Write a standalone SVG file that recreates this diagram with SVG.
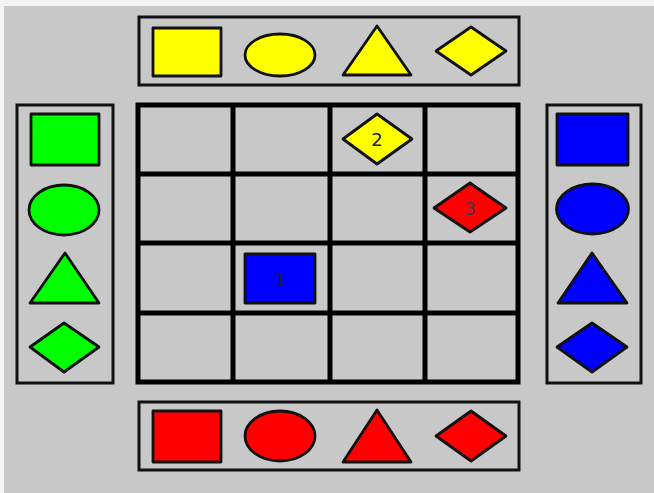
<svg xmlns="http://www.w3.org/2000/svg" width="654" height="493" viewBox="0 0 654 493">
<style>
.panel{fill:#c8c8c8;stroke:#111;stroke-width:3}
.sh{stroke:#111;stroke-width:2.8;stroke-linejoin:round}
.y{fill:#ffff00}.r{fill:#ff0000}.g{fill:#00ff00}.b{fill:#0000ff}
.grid{stroke:#000;stroke-width:5;fill:none;stroke-linecap:square}
.lbl{font-family:"DejaVu Sans","Liberation Sans",sans-serif;font-size:18px;fill:#1a1a2a;text-anchor:middle;dominant-baseline:central}
</style>
<rect x="0" y="0" width="654" height="493" fill="#f4f4f4"/>
<rect x="4" y="6" width="650" height="487" fill="#c8c8c8"/>

<g id="top-palette">
<rect class="panel" x="139" y="17" width="380" height="68"/>
<rect class="sh y" x="153" y="28" width="68" height="48"/>
<ellipse class="sh y" cx="280" cy="55" rx="35" ry="21"/>
<polygon class="sh y" points="377,26 343,75 411,75"/>
<polygon class="sh y" points="436,51 471,27 506,51 471,75"/>
</g>

<g id="bottom-palette">
<rect class="panel" x="139" y="402" width="380" height="68"/>
<rect class="sh r" x="153" y="411" width="68" height="51"/>
<ellipse class="sh r" cx="280" cy="436" rx="35" ry="25"/>
<polygon class="sh r" points="377,410 343,462 411,462"/>
<polygon class="sh r" points="436,436 471,411 506,436 471,461"/>
</g>

<g id="left-palette">
<rect class="panel" x="17" y="105" width="96" height="278"/>
<rect class="sh g" x="31" y="114" width="68" height="51"/>
<ellipse class="sh g" cx="64" cy="210" rx="35" ry="25"/>
<polygon class="sh g" points="65,253 30,303 99,303"/>
<polygon class="sh g" points="30,347 64,323 99,347 64,372"/>
</g>

<g id="right-palette">
<rect class="panel" x="547" y="105" width="94" height="278"/>
<rect class="sh b" x="557" y="114" width="71" height="51"/>
<ellipse class="sh b" cx="592.5" cy="209" rx="36" ry="25"/>
<polygon class="sh b" points="592,253 558,303 627,303"/>
<polygon class="sh b" points="557,347 592,323 627,347 592,372"/>
</g>

<g id="board">
<rect x="138" y="105" width="380" height="277" fill="#c8c8c8"/>
<path class="grid" d="M138,105V382M233,105V382M330,105V382M425,105V382M518,105V382M138,105H518M138,174H518M138,243H518M138,313H518M138,382H518"/>
</g>

<g id="piece-1">
<rect class="sh b" x="245" y="254" width="70" height="49"/>
<text class="lbl" x="280" y="279">1</text>
</g>
<g id="piece-2">
<polygon class="sh y" points="343,139 377,114 412,139 377,164"/>
<text class="lbl" x="377" y="139">2</text>
</g>
<g id="piece-3">
<polygon class="sh r" points="434,208 470,183 506,208 470,232"/>
<text class="lbl" x="470" y="208" style="fill:#3a3a5a">3</text>
</g>
<g id="connectors"></g>
</svg>
